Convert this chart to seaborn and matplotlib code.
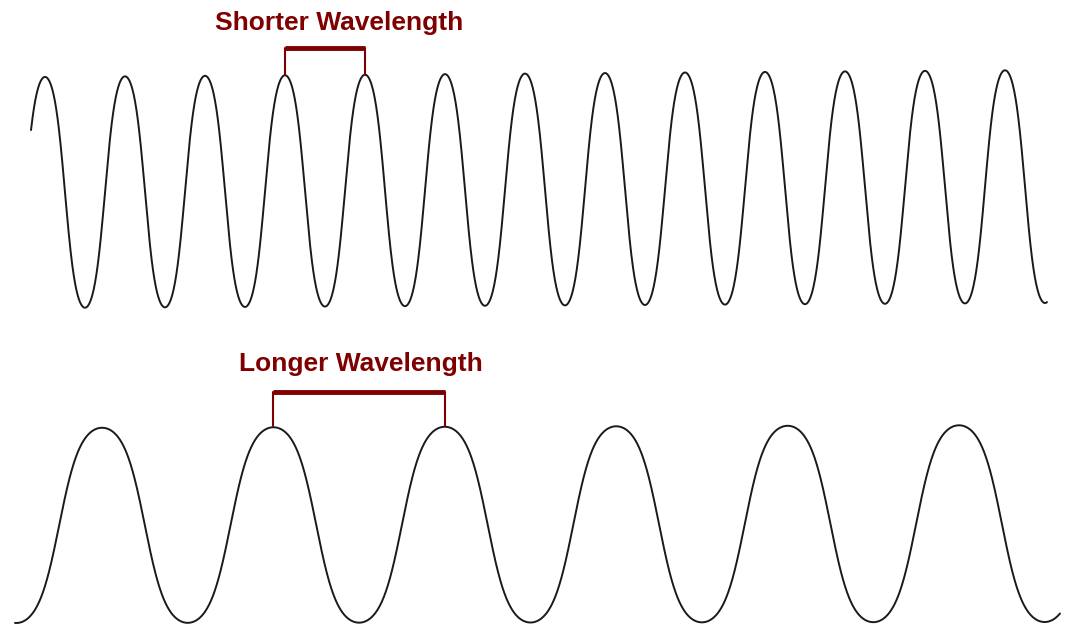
import numpy as np
import pandas as pd
import matplotlib
matplotlib.use("Agg")
import matplotlib.pyplot as plt
import seaborn as sns

# Wave parameters (pixel units of the 1066x627 image)
wave_names = ["Shorter Wavelength", "Longer Wavelength"]
wavelengths = [80.0, 171.4]        # distance between crests
first_crest_x = [45.0, 102.0]      # x of the first crest
crest_y_left = [77.0, 428.0]       # crest height at the left end
crest_y_right = [70.0, 425.0]      # crest height at the right end
trough_y_left = [308.0, 623.0]
trough_y_right = [303.0, 622.0]
squareness = [0.9, 1.1]            # how broad / steep-sided the drawn waves are
start_x = [31.0, 15.0]             # where each line begins
end_x = [1047.0, 1060.0]           # where each line ends
bracket_crest = [3, 1]             # bracket spans from this crest to the next
bracket_y = [48.0, 392.0]          # height of the bracket bar
label_y = [23.0, 364.0]
label_x = [339.0, 361.0]

dark_red = "#7f0000"

sns.set_style("white")
fig = plt.figure(figsize=(10.66, 6.27), dpi=100)
ax = fig.add_axes([0, 0, 1, 1])

# Build one long table of both waves
frames = []
for i, name in enumerate(wave_names):
    x = np.linspace(start_x[i], end_x[i], 3000)
    t = (x - start_x[i]) / (end_x[i] - start_x[i])
    top = crest_y_left[i] + t * (crest_y_right[i] - crest_y_left[i])
    bot = trough_y_left[i] + t * (trough_y_right[i] - trough_y_left[i])
    mid = (top + bot) / 2
    amp = (bot - top) / 2
    c = np.cos(2 * np.pi * (x - first_crest_x[i]) / wavelengths[i])
    k = squareness[i]
    y = mid - amp * np.tanh(k * c) / np.tanh(k)
    frames.append(pd.DataFrame({"x": x, "y": y, "wave": name}))
df = pd.concat(frames, ignore_index=True)

sns.lineplot(data=df, x="x", y="y", units="wave", estimator=None, sort=False,
             color="#1a1a1a", linewidth=1.4, ax=ax, legend=False)

# Brackets and labels
for i, name in enumerate(wave_names):
    x0 = first_crest_x[i] + bracket_crest[i] * wavelengths[i]
    x1 = x0 + wavelengths[i]
    ax.plot([x0, x1], [bracket_y[i], bracket_y[i]], color=dark_red, linewidth=3.5,
            solid_capstyle="butt")
    ax.plot([x0, x0], [bracket_y[i], crest_y_left[i] - 2], color=dark_red, linewidth=1.5)
    ax.plot([x1, x1], [bracket_y[i], crest_y_left[i] - 2], color=dark_red, linewidth=1.5)
    ax.text(label_x[i], label_y[i], name, color=dark_red, fontsize=19,
            fontweight="bold", family=["Liberation Sans", "DejaVu Sans"],
            ha="center", va="center")

ax.set_xlim(0, 1066)
ax.set_ylim(627, 0)
ax.axis("off")

fig.savefig("out.png", dpi=100, facecolor="white")
